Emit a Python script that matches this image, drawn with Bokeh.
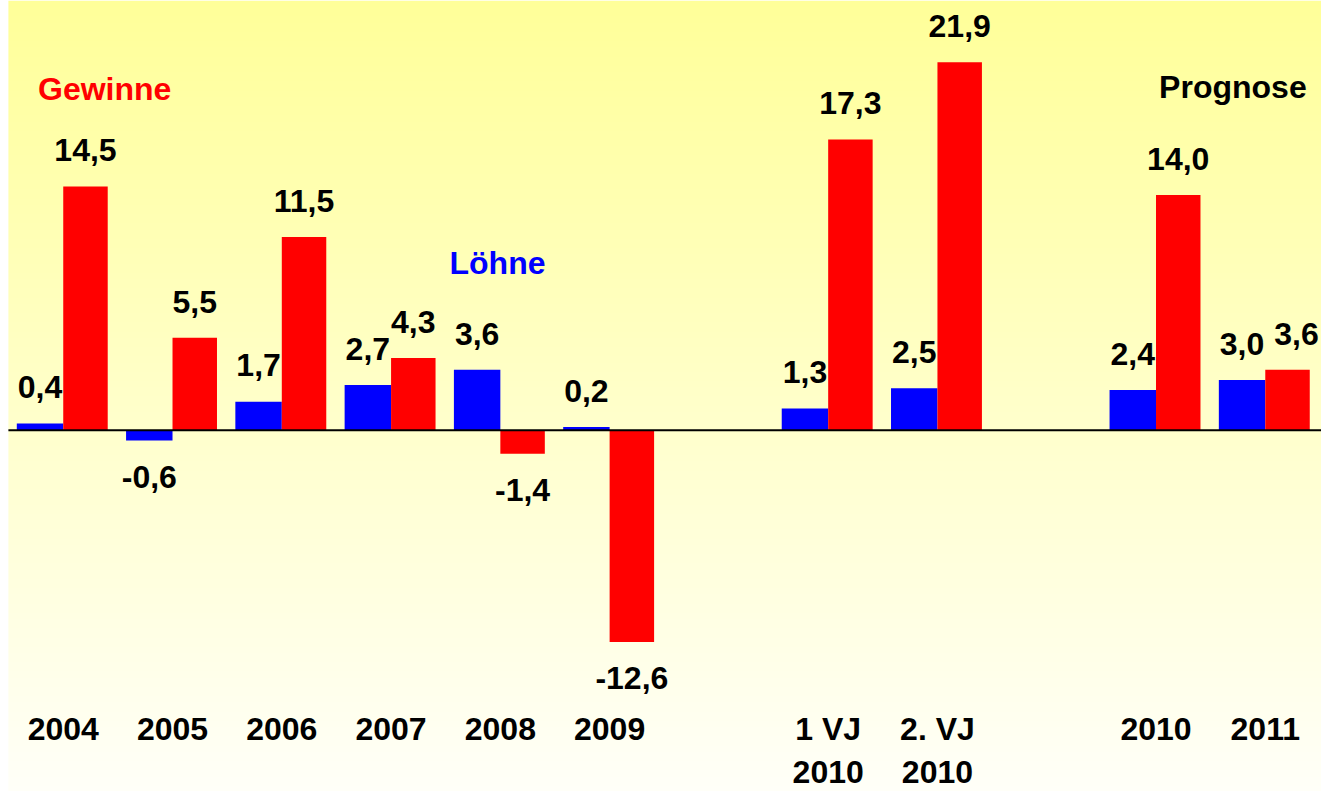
import numpy as np
from bokeh.plotting import figure
from bokeh.models import Range1d, Label, ColumnDataSource
from bokeh.core.properties import value
from bokeh.embed import file_html
from bokeh.resources import INLINE

# ---- data -------------------------------------------------------------
axis_slots = ["2004", "2005", "2006", "2007", "2008", "2009", None,
              "1 VJ\n2010", "2. VJ\n2010", None, "2010", "2011"]
categories = [c for c in axis_slots if c]
loehne = [0.4, -0.6, 1.7, 2.7, 3.6, 0.2, 1.3, 2.5, 2.4, 3.0]
gewinne = [14.5, 5.5, 11.5, 4.3, -1.4, -12.6, 17.3, 21.9, 14.0, 3.6]

# ---- geometry ---------------------------------------------------------
W, H = 1321, 791
SX, SY = W / 1337, H / 807
PPU = 17.15 * SY          # pixels per percent point
ZERO = 438.5 * SY         # zero line, px from top of figure
SLOT = 110.6 * SX
C0 = 63.5 * SX
x_start = -C0 / SLOT
x_end = x_start + W / SLOT
y_end = ZERO / PPU
y_start = -(H - ZERO) / PPU

FONT = value("Liberation Sans")
FS = "32px"

p = figure(width=W, height=H, output_backend="svg", toolbar_location=None,
           x_range=Range1d(x_start, x_end), y_range=Range1d(y_start, y_end),
           x_axis_type=None, y_axis_type=None, min_border=0,
           outline_line_color=None, border_fill_color="white",
           background_fill_color="white")
p.xgrid.visible = False
p.ygrid.visible = False

# gradient background (light yellow at top to cream at bottom)
n = 256
t = np.linspace(0, 1, n)             # 0 = bottom, 1 = top
blue_ch = np.round(0xF8 + (0x99 - 0xF8) * t).astype(np.uint8)
img = np.zeros((n, 1), dtype=np.uint32)
view = img.view(dtype=np.uint8).reshape((n, 1, 4))
view[:, 0, 0] = 255
view[:, 0, 1] = 255
view[:, 0, 2] = blue_ch
view[:, 0, 3] = 255
bg_left = x_start + 8 * SX / SLOT
p.image_rgba(image=[img], x=bg_left, y=y_start, dw=x_end - bg_left, dh=y_end - y_start)

xs = np.array([axis_slots.index(c) for c in categories], dtype=float)
bw_blue, bw_red = 0.425, 0.407

lo_txt = [f"{v:.1f}".replace(".", ",") for v in loehne]
ge_txt = [f"{v:.1f}".replace(".", ",") for v in gewinne]
off = 37 * SY
src = ColumnDataSource(dict(
    xb=xs - bw_blue / 2, xr=xs + bw_red / 2,
    lo=loehne, ge=gewinne, lo_txt=lo_txt, ge_txt=ge_txt,
    lo_off=[-off if v >= 0 else off for v in loehne],
    ge_off=[-off if v >= 0 else off for v in gewinne],
    ge_dx=[9 if abs(g - l) < 1.5 else 0 for g, l in zip(gewinne, loehne)],
))

p.vbar(x="xb", top="lo", bottom=0, width=bw_blue, source=src,
       fill_color="#0000FF", line_color=None)
p.vbar(x="xr", top="ge", bottom=0, width=bw_red, source=src,
       fill_color="#FF0000", line_color=None)

# zero line
p.segment(x0=[bg_left], y0=[0], x1=[x_end], y1=[0], line_color="black", line_width=2)

common = dict(text_font=FONT, text_font_style="bold", text_font_size=FS,
              text_align="center", text_baseline="middle", text_color="black")
p.text(x="xb", y="lo", text="lo_txt", y_offset="lo_off", source=src, **common)
p.text(x="xr", y="ge", text="ge_txt", y_offset="ge_off", x_offset="ge_dx",
       source=src, **common)

# category labels (two rows)
row1 = [c.split("\n")[0] for c in categories]
row2 = [c.split("\n")[1] if "\n" in c else "" for c in categories]
y_row1 = y_start + (H - 728) / PPU
y_row2 = y_start + (H - 771) / PPU
p.text(x=xs, y=[y_row1] * len(xs), text=row1, **common)
p.text(x=xs, y=[y_row2] * len(xs), text=row2, **common)

# series annotations
lab = dict(x_units="screen", y_units="screen", text_font="Liberation Sans",
           text_font_style="bold", text_font_size=FS, text_baseline="middle")
p.add_layout(Label(x=38 * SX, y=H - 90 * SY, text="Gewinne", text_color="#FF0000",
                   text_align="left", **lab))
p.add_layout(Label(x=503 * SX, y=H - 268 * SY, text="Löhne", text_color="#0000FF",
                   text_align="center", **lab))
p.add_layout(Label(x=1322 * SX, y=H - 88 * SY, text="Prognose", text_color="black",
                   text_align="right", **lab))

open("out.html", "w").write(file_html(p, INLINE))
